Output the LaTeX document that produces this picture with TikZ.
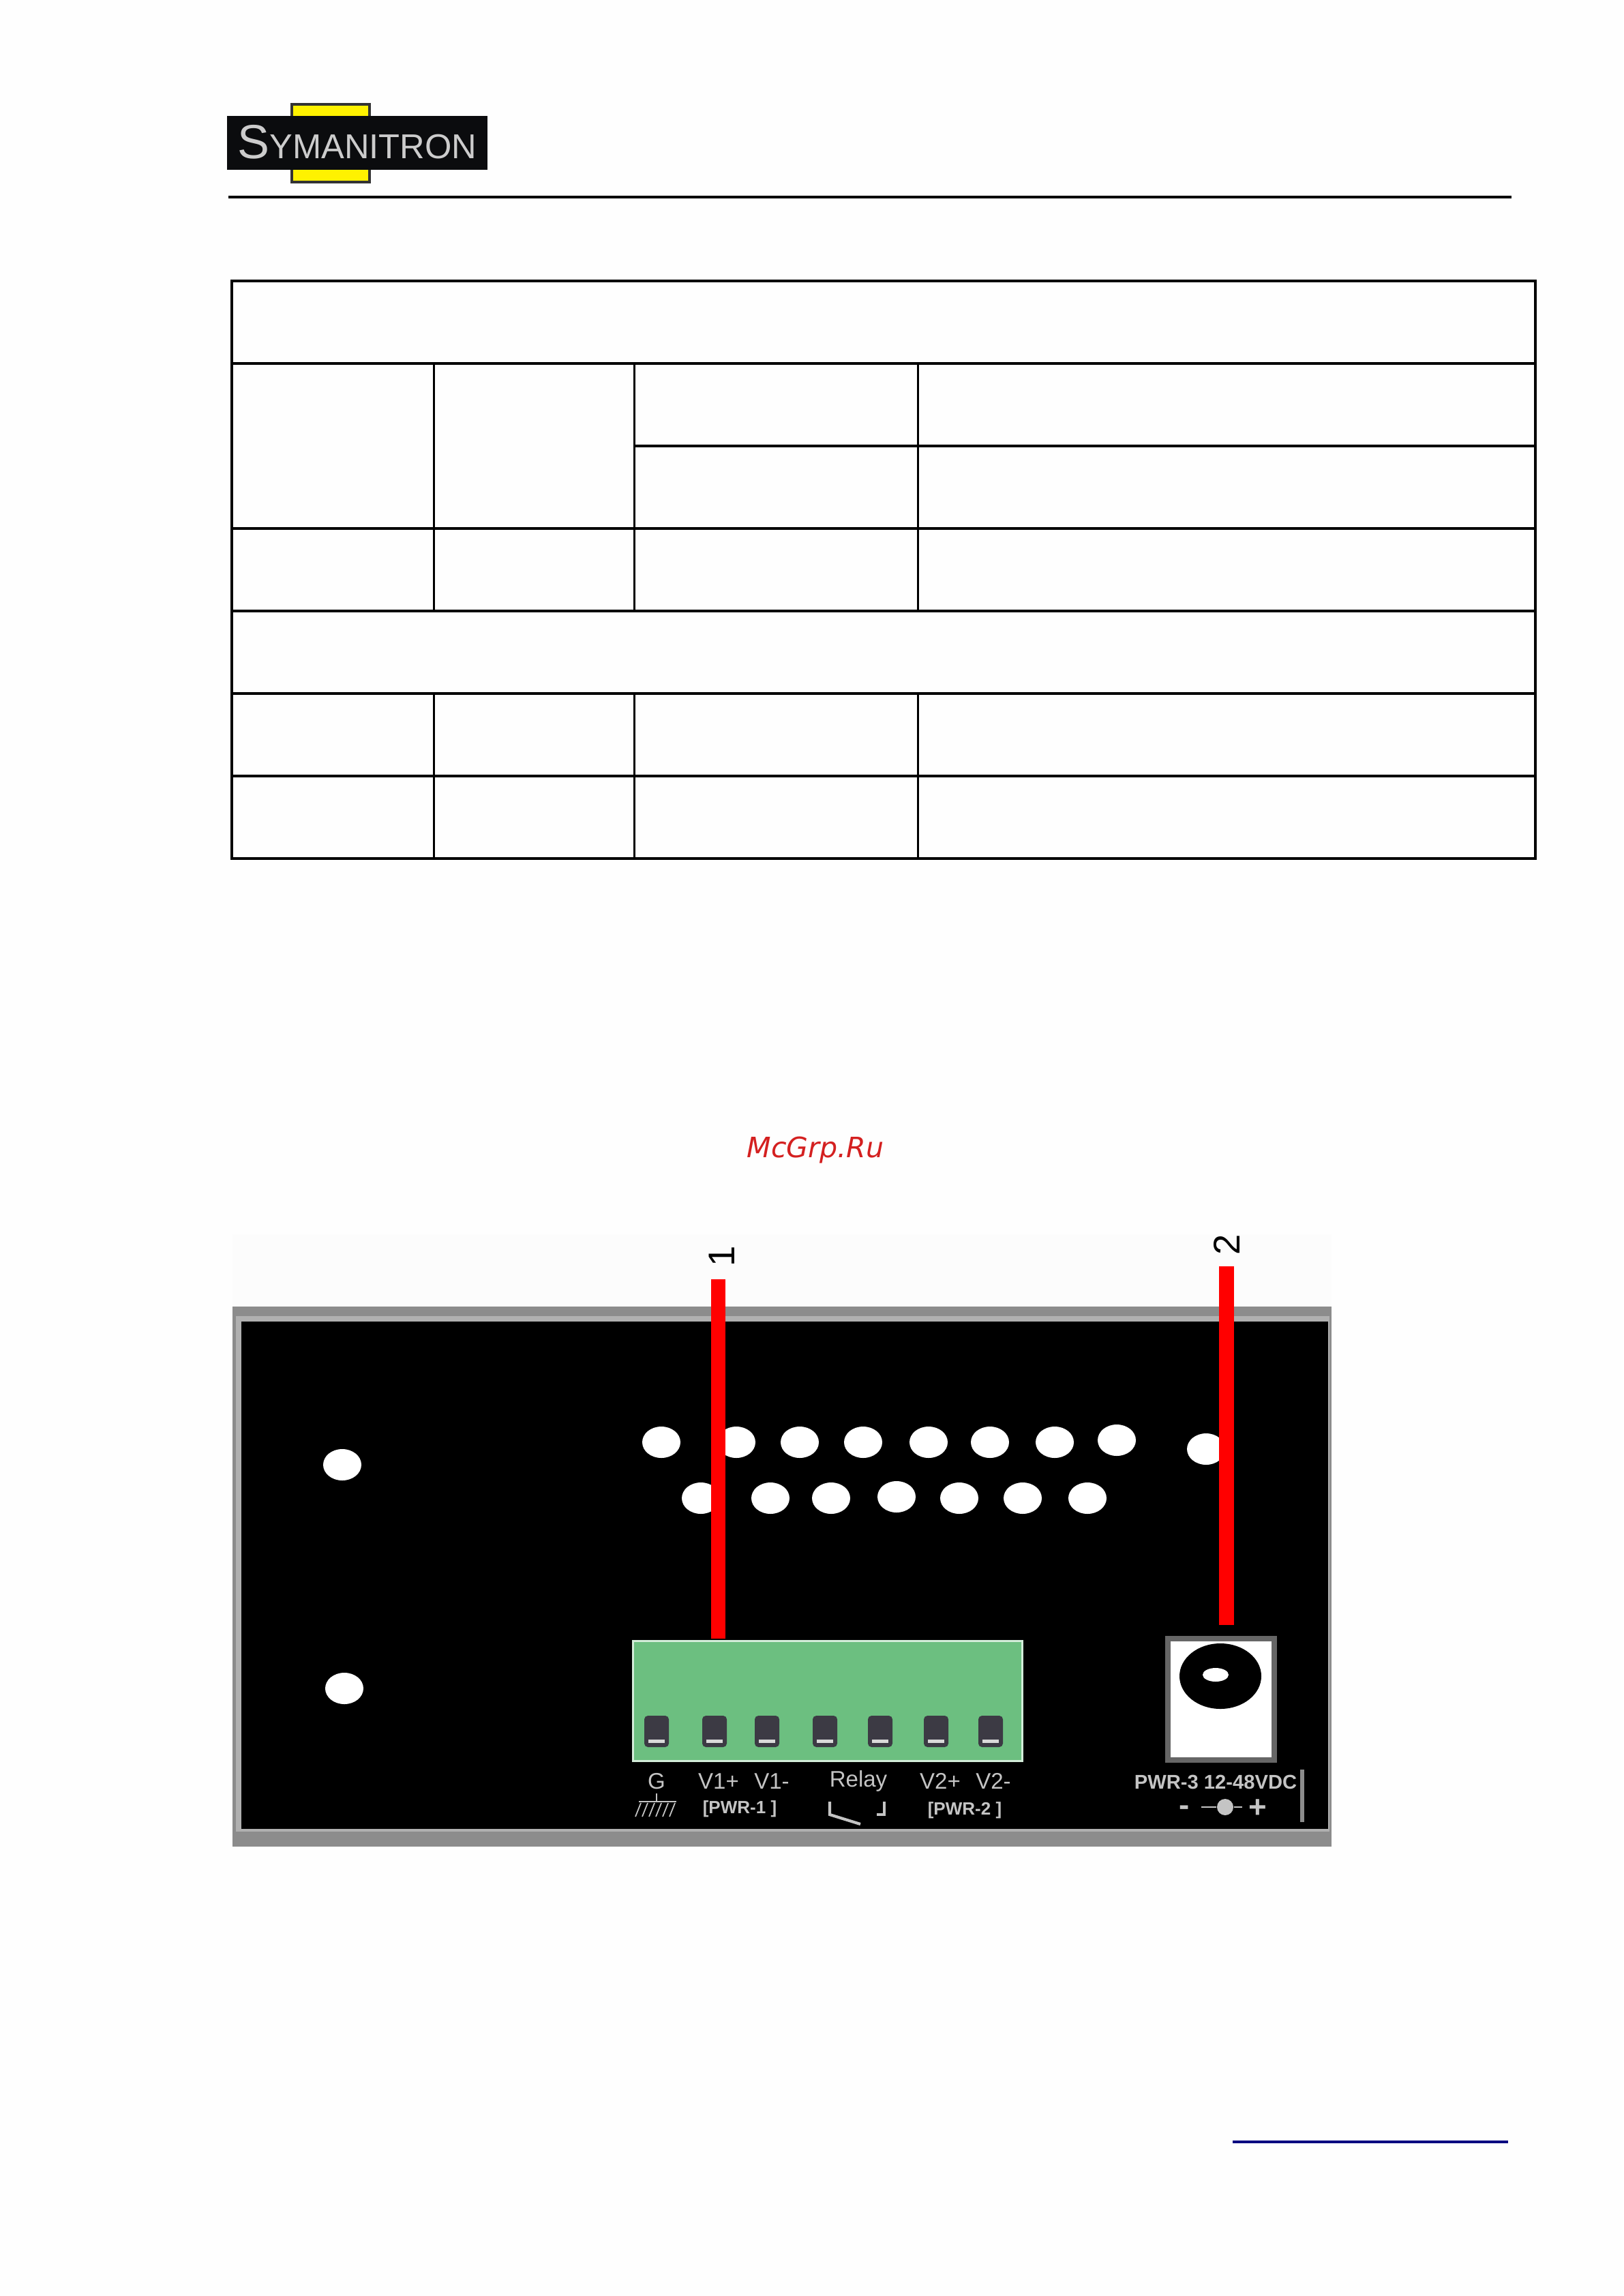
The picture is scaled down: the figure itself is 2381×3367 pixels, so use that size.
\documentclass[tikz,border=0pt]{standalone}
\usepackage{fontspec}
\setmainfont{Liberation Sans}
\newfontfamily\markfont{DejaVu Sans}
\definecolor{paneledge}{HTML}{8C8C8C}
\definecolor{paneledgelight}{HTML}{B0B0B0}
\definecolor{blockgreen}{HTML}{6CBF80}
\definecolor{logoyellow}{HTML}{FFF200}
\definecolor{logoblack}{HTML}{0B0C0E}
\definecolor{printgray}{HTML}{C4C4C4}
\definecolor{markred}{HTML}{D42020}
\definecolor{postgray}{HTML}{3C3A44}
\definecolor{footerblue}{HTML}{000080}
\tikzset{
  dothole/.style={fill=white,x radius=28,y radius=23},
  redbar/.style={draw=red,line width=6pt},
  tablerule/.style={line width=1.15pt},
  tablepost/.style={line width=0.85pt},
  printlabel/.style={text=printgray,font=\fontsize{9.4pt}{10pt}\selectfont,inner sep=0pt},
  printsmall/.style={text=printgray,font=\bfseries\fontsize{7.4pt}{8pt}\selectfont,inner sep=0pt},
  screwpost/.style={fill=postgray,rounded corners=1.5pt,minimum width=36*0.01cm,minimum height=46*0.01cm,inner sep=0pt},
}
\begin{document}
\begin{tikzpicture}[x=0.01cm,y=-0.01cm]
\useasboundingbox (0,0) rectangle (2381,3367);
\fill[black!0.5] (0,0) rectangle (2381,3367);
% logo
\fill[logoyellow,draw=black!80,line width=1.2pt] (428,153) rectangle (542,267);
\node[fill=logoblack,minimum width=382*0.01cm,minimum height=79*0.01cm,inner sep=0pt,anchor=north west] (logo) at (332,169) {};
\node[text=white!80!black,inner sep=0pt] (logotext) at (524,208) {\fontsize{20pt}{22pt}\selectfont S\fontsize{14.4pt}{16pt}\selectfont YMANITRON};
\draw[line width=1.4pt] (335,289) -- (2217,289);
% table
\draw[tablerule] (340,412) rectangle (2252,1259);
\foreach \y in {533,775,896,1017,1138} {
    \draw[tablerule] (340,\y) -- (2252,\y);
}
\draw[tablerule] (930,654) -- (2252,654);
\foreach \x in {636,930,1346} {
    \draw[tablepost] (\x,533) -- (\x,896);
    \draw[tablepost] (\x,1017) -- (\x,1259);
}
\node[text=markred,font=\markfont\itshape\fontsize{11.7pt}{12pt}\selectfont,inner sep=0pt,anchor=base] (watermark) at (1196,1697) {McGrp.Ru};
% panel
\fill[black!1] (341,1810) rectangle (1953,1916);
\fill[paneledge] (341,1916) rectangle (1953,2708);
\fill[paneledgelight] (346,1930) rectangle (1950,2686);
\fill[black] (354,1938) rectangle (1948,2682);
\foreach \x/\y in {970/2115,1080/2115,1173/2115,1266/2115,1362/2115,1452/2115,1547/2115,1638/2112,1769/2125} {
    \fill[dothole] (\x,\y) ellipse [];
}
\foreach \x/\y in {1028/2197,1130/2197,1219/2197,1315/2195,1407/2197,1500/2197,1595/2197,502/2148,505/2476} {
    \fill[dothole] (\x,\y) ellipse [];
}
% terminal block
\node[fill=blockgreen,draw=white!70!blockgreen,line width=0.8pt,minimum width=571*0.01cm,minimum height=176*0.01cm,inner sep=0pt,anchor=north west] (block) at (927,2405) {};
\foreach \x in {963,1048,1125,1210,1291,1373,1453} {
    \node[screwpost] (post\x) at (\x,2539) {};
    \fill[white!85!black] (\x-12,2551) rectangle (\x+12,2556);
}
\node[printlabel] (g) at (963,2612) {G};
\node[printlabel] (vonep) at (1054,2612) {V1+};
\node[printlabel] (vonem) at (1132,2612) {V1-};
\node[printlabel] (relay) at (1259,2612) {Relay};
\node[printlabel] (vtwop) at (1379,2612) {V2+};
\node[printlabel] (vtwom) at (1457,2612) {V2-};
\node[printsmall] (pwrone) at (1085,2653) {[PWR-1 ]};
\node[printsmall] (pwrtwo) at (1415,2655) {[PWR-2 ]};
\draw[printgray,line width=0.7pt] (963,2630) -- (963,2642);
\draw[printgray,line width=0.7pt] (937,2642) -- (992,2642);
\foreach \x in {940,950,960,970,980,990} {
    \draw[printgray,line width=0.5pt] (\x,2644) -- (\x-8,2664);
}
\draw[printgray,line width=1.2pt] (1217,2642) -- (1217,2661) -- (1262,2675);
\draw[printgray,line width=1.2pt] (1297,2642) -- (1297,2661) -- (1286,2661);
% power jack
\node[fill=white,draw=black!60,line width=2.2pt,minimum width=156*0.01cm,minimum height=178*0.01cm,inner sep=0pt,anchor=north west] (jack) at (1709,2399) {};
\fill[black] (1790,2458) ellipse [x radius=60,y radius=48];
\fill[white] (1783,2456) ellipse [x radius=19,y radius=10];
\node[printsmall,font=\bfseries\fontsize{8.3pt}{9pt}\selectfont] (pwrthree) at (1783,2613) {PWR-3 12-48VDC};
\node[printsmall,font=\bfseries\fontsize{13pt}{14pt}\selectfont] (minus) at (1737,2655) {-};
\node[printsmall,font=\bfseries\fontsize{13pt}{14pt}\selectfont] (plus) at (1845,2652) {+};
\node[fill=printgray,circle,minimum size=24*0.01cm,inner sep=0pt] (socket) at (1797,2650) {};
\draw[printgray,line width=0.6pt] (1762,2650) -- (socket) -- (1822,2650);
\draw[paneledge,line width=1.5pt] (1910,2595) -- (1910,2672);
% callouts
\coordinate (barone) at (1053.5,1876);
\coordinate (bartwo) at (1799,1857);
\draw[redbar,shorten >=0.6pt] (barone) -- (barone |- block.north);
\draw[redbar,shorten >=4.5pt] (bartwo) -- (bartwo |- jack.north);
\node[rotate=90,font=\fontsize{15.5pt}{16pt}\selectfont,inner sep=0pt] (one) at (1059,1842) {1};
\node[rotate=90,font=\fontsize{15.5pt}{16pt}\selectfont,inner sep=0pt] (two) at (1799,1825) {2};
% footer
\draw[footerblue,line width=1.15pt] (1808,3141) -- (2212,3141);
\end{tikzpicture}
\end{document}
